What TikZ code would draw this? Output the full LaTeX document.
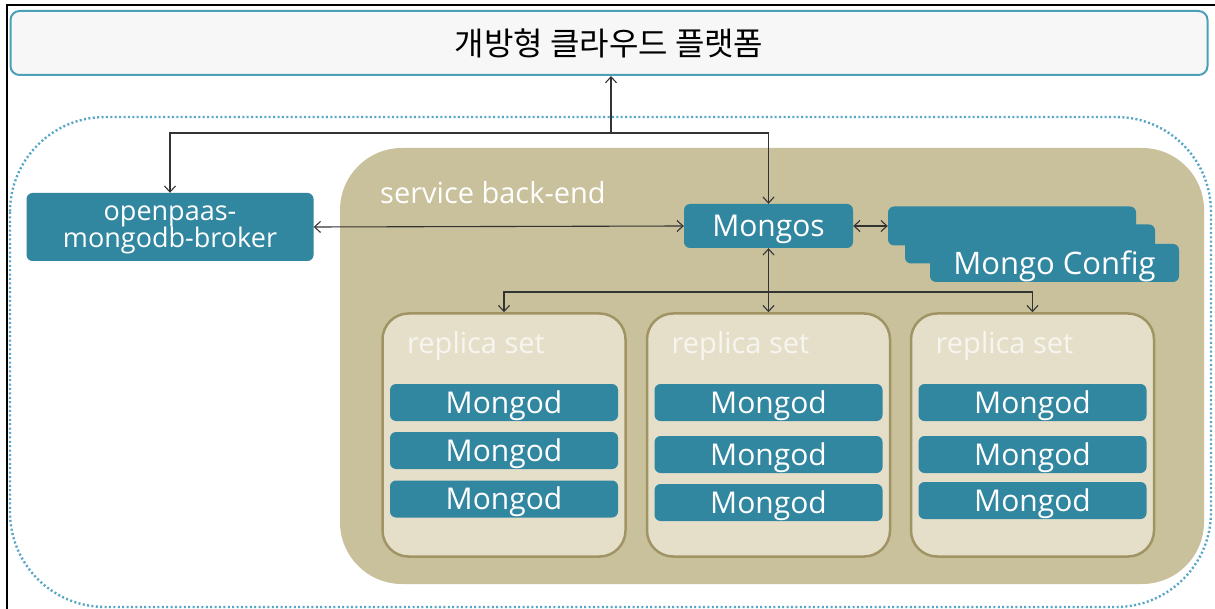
\documentclass[tikz,border=0pt]{standalone}
\usepackage{fontspec}
\setmainfont{Open Sans}
\newfontfamily\krfont{Noto Sans CJK KR}
\usepackage{tikz}
\usetikzlibrary{arrows.meta}
\usepackage{xcolor}

\definecolor{teal}{RGB}{49,134,160}
\definecolor{tan}{RGB}{201,193,156}
\definecolor{cream}{RGB}{229,223,202}
\definecolor{olive}{RGB}{160,148,100}
\definecolor{sky}{RGB}{86,166,200}
\definecolor{frame}{RGB}{74,160,182}

\tikzset{
  box/.style={draw=none, fill=teal, rounded corners=6pt, text=white, inner sep=0pt,
    text depth=0.1em, font=\fontsize{30}{32}\selectfont},
  mongod/.style={box, minimum width=228pt, minimum height=37pt},
  rset/.style={draw=olive, line width=2.5pt, fill=cream, rounded corners=26pt,
    minimum width=243pt, minimum height=243pt},
  tag/.style={anchor=west, inner sep=0pt, font=\fontsize{29}{32}\selectfont},
  arr/.style={line width=1.1pt, draw=black!80, -{Straight Barb[length=6pt,width=11pt]}},
  darr/.style={arr, {Straight Barb[length=6pt,width=11pt]}-{Straight Barb[length=6pt,width=11pt]}}
}

\begin{document}
\begin{tikzpicture}[x=1pt,y=-1pt]
            \useasboundingbox (0,0) rectangle (1215,609);
            \fill[white] (0,0) rectangle (1215,609);
            \draw[line width=1.2pt] (7,609) -- (7,5) -- (1215,5);
            \draw[sky, line width=2.4pt, dash pattern=on 2pt off 2.4pt, rounded corners=95pt]
                (10,117) rectangle (1211,607);
            \fill[tan, rounded corners=62pt] (340,148) rectangle (1204,584);
            \node[tag, text=white] (sbe) at (380,193) {service back-end};

            \node[draw=frame, line width=2pt, fill=black!3, rounded corners=9pt,
                minimum width=1197pt, minimum height=64pt,
                font=\krfont\fontsize{32}{34}\selectfont] (cloud) at (609,43) {개방형 클라우드 플랫폼};

            \node[box, minimum width=287pt, minimum height=68pt, align=center,
                font=\fontsize{27}{27}\selectfont] (broker) at (170,227) {openpaas-\\mongodb-broker};
            \node[box, minimum width=169pt, minimum height=44pt] (mongos) at (768.5,226) {Mongos};

            \node[box, minimum width=248pt, minimum height=39pt] (cfga) at (1012,226) {};
            \node[box, minimum width=250pt, minimum height=39pt] (cfgb) at (1030,244) {};
            \node[box, minimum width=249pt, minimum height=38pt,
                font=\fontsize{31}{32}\selectfont] (cfgc) at (1054.5,263) {Mongo Config};

            \foreach \i/\x in {1/504,2/768.5,3/1032.5} {
                \node[rset] (rs\i) at (\x,435) {};
                \node[tag, text=white!70!cream] (lbl\i) at (\x-97,346) {replica set};
            }
            \node[mongod] (m11) at (504,402.5) {Mongod};
            \node[mongod] (m12) at (504,450.5) {Mongod};
            \node[mongod] (m13) at (504,499) {Mongod};
            \node[mongod] (m21) at (768.5,402.5) {Mongod};
            \node[mongod] (m22) at (768.5,454.5) {Mongod};
            \node[mongod] (m23) at (768.5,502.5) {Mongod};
            \node[mongod] (m31) at (1032.5,402.5) {Mongod};
            \node[mongod] (m32) at (1032.5,454.5) {Mongod};
            \node[mongod] (m33) at (1032.5,500.5) {Mongod};

            \coordinate (up) at (611,133);
            \coordinate (down) at (767,292);
            \draw[arr] (up) -- (up |- cloud.south);
            \draw[arr] (up) -| (broker.north);
            \draw[arr] (up) -| (mongos.north);
            \draw[darr] (broker.east) -- (mongos.west);
            \draw[darr] (mongos.east) -- (mongos.east -| cfga.west);
            \draw[darr] (mongos.south) -- (rs2.north);
            \draw[arr] (down) -| (rs1.north);
            \draw[arr] (down) -| (rs3.north);
        \end{tikzpicture}
\end{document}
